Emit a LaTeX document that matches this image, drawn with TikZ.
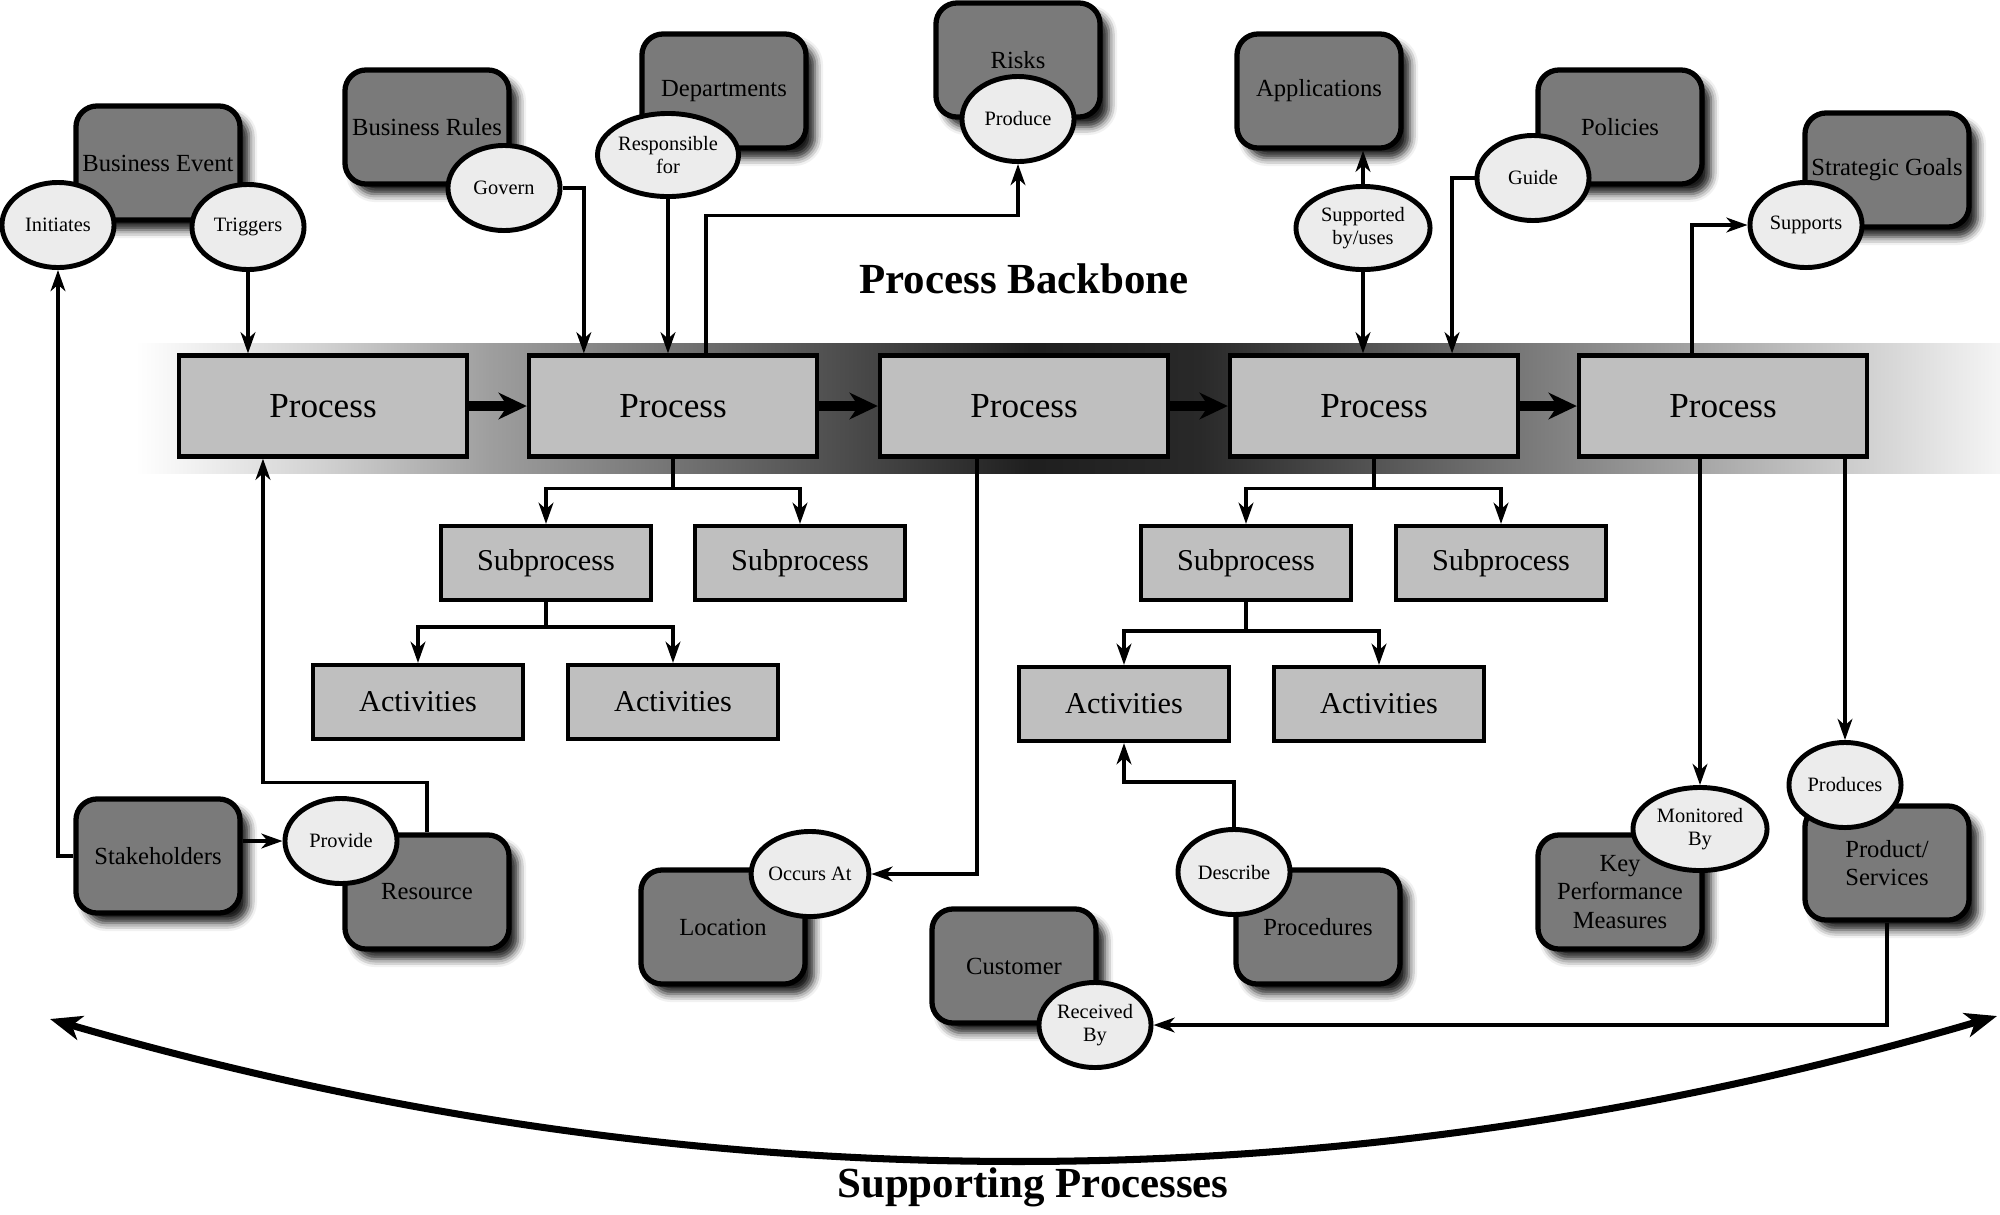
\documentclass[tikz,border=0pt]{standalone}
\usepackage{fontspec}
\setmainfont{Liberation Serif}
\usepackage{tikz}
\usetikzlibrary{arrows.meta,shapes.geometric,shadows.blur}
\usepackage{xcolor}
\definecolor{thingfill}{RGB}{122,122,122}
\definecolor{procfill}{RGB}{191,191,191}
\definecolor{verbfill}{RGB}{236,236,236}
\pgfdeclarehorizontalshading{backbone}{100bp}{color(0bp)=(white); color(25bp)=(white);
  color(30bp)=(black!18); color(34.5bp)=(black!38); color(44bp)=(black!70);
  color(49bp)=(black!88); color(53.5bp)=(black!84); color(63bp)=(black!50);
  color(72.5bp)=(black!14); color(75bp)=(black!4); color(100bp)=(white)}
\tikzset{
  proc/.style={draw,line width=1.2pt,fill=procfill,minimum width=2.88cm,minimum height=1.01cm,
    inner sep=0pt,font=\fontsize{10}{12}\selectfont},
  sub/.style={draw,line width=1.2pt,fill=procfill,minimum width=2.1cm,minimum height=0.74cm,
    inner sep=0pt,font=\fontsize{8.6}{10}\selectfont},
  thing/.style={draw,line width=1.5pt,fill=thingfill,rounded corners=6pt,minimum width=1.64cm,
    minimum height=1.14cm,inner sep=0pt,align=center,font=\fontsize{7}{8}\selectfont,
    blur shadow={shadow xshift=0.09cm,shadow yshift=-0.1cm,shadow blur radius=0.08cm,shadow opacity=90}},
  verb/.style={ellipse,draw,line width=1.4pt,fill=verbfill,minimum width=1.12cm,minimum height=0.85cm,
    inner sep=0pt,align=center,font=\fontsize{5.8}{6.6}\selectfont},
  wideverb/.style={verb,minimum width=1.34cm,minimum height=0.83cm},
  conn/.style={line width=1pt,-{Stealth[length=6pt,width=4.2pt,inset=1.8pt]}},
  flow/.style={line width=2.6pt,-{Stealth[length=8pt,width=7.5pt,inset=2.5pt]}},
  sweep/.style={line width=2pt,{Stealth[length=9pt,width=7pt,inset=2.5pt]}-{Stealth[length=9pt,width=7pt,inset=2.5pt]}},
  heading/.style={font=\fontsize{12.2}{14}\selectfont\bfseries},
}

\begin{document}
\begin{tikzpicture}[x=0.01cm,y=-0.01cm]
  \useasboundingbox (0,0) rectangle (2000,1214);
  % backbone band
  \shade[shading=backbone] (136,343) rectangle (2000,473);
  \node[heading] (backbone) at (1024,279) {Process Backbone};
  \node[heading] (supporting) at (1033,1187) {Supporting Processes};

  \foreach \n/\x in {p1/323,p2/673,p3/1024,p4/1374,p5/1723}
    \node[proc] (\n) at (\x,406) {Process};
  \foreach \n/\x/\y/\lab in {s1/546/563/Subprocess,s2/800/563/Subprocess,s3/1246/563/Subprocess,
                             s4/1501/563/Subprocess,a1/418/702/Activities,a2/673/702/Activities,
                             a3/1124/704/Activities,a4/1379/704/Activities}
    \node[sub] (\n) at (\x,\y) {\lab};

  % things
  \foreach \n/\x/\y/\lab in {event/158/163/{Business Event},rules/427/127/{Business Rules},
                             depts/724/91/Departments,risks/1018/60/Risks,apps/1319/91/Applications,
                             policies/1620/127/Policies,goals/1887/170/{Strategic Goals},
                             stake/158/856/Stakeholders,resource/427/892/Resource,
                             location/723/927/Location,customer/1014/966/Customer,
                             proced/1318/927/Procedures,kpm/1620/892/{Key\\Performance\\Measures},
                             product/1887/863/{Product/\\Services}}
    \node[thing] (\n) at (\x,\y) {\lab};

  % relations
  \foreach \n/\x/\y/\lab in {initiates/58/225/Initiates,triggers/248/227/Triggers,govern/504/188/Govern,
                             produce/1018/119/Produce,guide/1533/178/Guide,supports/1806/225/Supports,
                             provide/341/841/Provide,occurs/810/874/{Occurs At},
                             received/1095/1025/{Received\\By},describe/1234/872/Describe,
                             produces/1845/785/Produces}
    \node[verb] (\n) at (\x,\y) {\lab};
  \node[wideverb] (resp) at (668,155) {Responsible\\for};
  \node[wideverb] (supby) at (1363,228) {Supported\\by/uses};
  \node[wideverb] (monitored) at (1700,829) {Monitored\\By};

  % backbone flow
  \foreach \a/\b in {p1/p2,p2/p3,p3/p4,p4/p5}
    \draw[flow] (\a) -- (\b);

  % decomposition
  \foreach \t in {s1,s2} \draw[conn] (p2.south) -- ++(0,30) -| (\t.north);
  \foreach \t in {s3,s4} \draw[conn] (p4.south) -- ++(0,30) -| (\t.north);
  \foreach \t in {a1,a2} \draw[conn] (s1.south) -- ++(0,25) -| (\t.north);
  \foreach \t in {a3,a4} \draw[conn] (s3.south) -- ++(0,29) -| (\t.north);

  % top side
  \draw[conn] (triggers.south) -- (triggers.south |- p1.north);
  \draw[conn] (govern.east) -| ([xshift=0.57cm]p2.north west);
  \draw[conn] (resp.south) -- (resp.south |- p2.north);
  \draw[conn] ([xshift=0.33cm]p2.north) -- ++(0,-138) -| (produce.south);
  \draw[conn] (supby.north) -- (supby.north |- apps.south);
  \draw[conn] (supby.south) -- (supby.south |- p4.north);
  \draw[conn] (guide.west) -| ([xshift=0.78cm]p4.north);
  \draw[conn] ([xshift=-0.31cm]p5.north) |- (supports.west);

  % bottom side
  \draw[conn] (stake.west) -| (initiates.south);
  \draw[conn] (stake.east |- provide.west) -- (provide.west);
  \draw[conn] (resource.north) -- ++(0,-50) -| ([xshift=-0.6cm]p1.south);
  \draw[conn] ([xshift=-0.47cm]p3.south) |- (occurs.east);
  \draw[conn] (describe.north) -- ++(0,-45) -| (a3.south);
  \draw[conn] (monitored.north |- p5.south) -- (monitored.north);
  \draw[conn] (produces.north |- p5.south) -- (produces.north);
  \draw[conn] (product.south) |- (received.east);

  % supporting processes
  \coordinate (sweepL) at (50,1019);
  \coordinate (sweepR) at (1997,1016);
  \draw[sweep] (sweepL) .. controls (699,1208) and (1348,1207) .. (sweepR);
\end{tikzpicture}
\end{document}
